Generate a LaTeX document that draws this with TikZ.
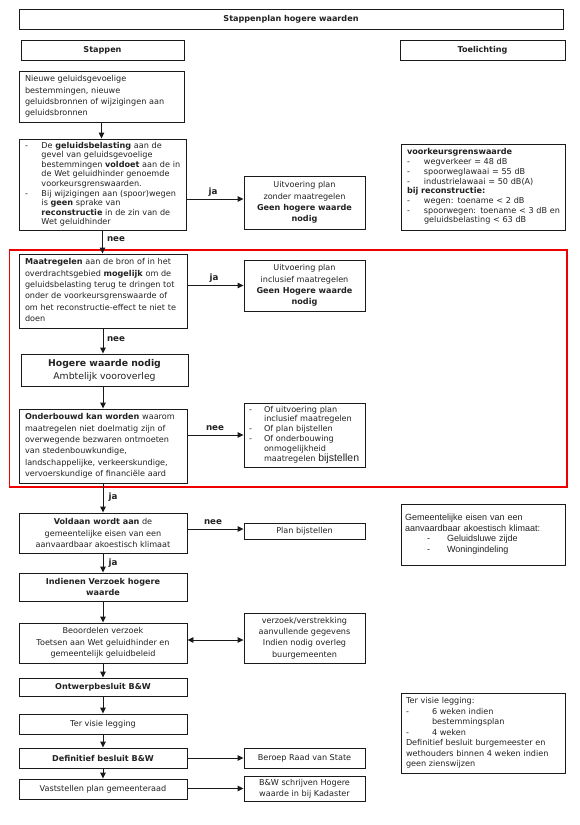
\documentclass[tikz,border=0pt]{standalone}
\usepackage{fontspec}
\setmainfont{DejaVu Sans}
\newfontfamily\arialf{Liberation Sans}
\usetikzlibrary{arrows.meta}
\definecolor{lin}{HTML}{1A1A1A}
\definecolor{txt}{HTML}{222222}
\definecolor{redr}{HTML}{EE0000}
\newcommand\tl[1]{\begin{tabular}{@{}l@{}}#1\end{tabular}}
\newcommand\dsh[2]{\makebox[#1][l]{-}}
\begin{document}
\begin{tikzpicture}[x=1pt,y=-1pt,
  box/.style={draw=lin, line width=0.9pt, inner sep=0pt, align=center, text=txt,
    font=\fontsize{8.1}{11.2}\selectfont},
  lbox/.style={box, align=left},
  arr/.style={draw=lin, line width=0.9pt, -{Triangle[length=6pt,width=5.5pt]}},
  darr/.style={draw=lin, line width=0.9pt, {Triangle[length=6pt,width=5.5pt]}-{Triangle[length=6pt,width=5.5pt]}},
  lbl/.style={inner sep=0pt, text=txt, font=\fontsize{8.7}{10}\bfseries\selectfont},
]
\fill[white] (0,0) rectangle (579,825);
\useasboundingbox (0,0) rectangle (579,825);

% header
\node[box, minimum width=544pt, minimum height=20pt, font=\fontsize{8.1}{10}\bfseries\selectfont] (title) at (291,19.5) {Stappenplan hogere waarden};
\node[box, minimum width=163pt, minimum height=20pt, font=\fontsize{8.1}{10}\bfseries\selectfont] (stappen) at (102.5,50) {Stappen};
\node[box, minimum width=165pt, minimum height=20pt, font=\fontsize{8.1}{10}\bfseries\selectfont] (toel) at (482.5,50) {Toelichting};

% left column
\node[lbox, minimum width=165pt, minimum height=51pt, text width=153pt, inner xsep=6pt] (b1) at (101.5,96.5)
 {\tl{Nieuwe geluidsgevoelige\\ bestemmingen, nieuwe\\ geluidsbronnen of wijzigingen aan\\ geluidsbronnen}};
\node[lbox, minimum width=167pt, minimum height=91pt, text width=155pt, inner xsep=6pt,
  font=\fontsize{8.1}{9.6}\selectfont] (b2) at (102.5,184.5)
 {\tl{\makebox[16.5pt][l]{-}De \textbf{geluidsbelasting} aan de\\
 \hspace*{16.5pt}gevel van geluidsgevoelige\\
 \hspace*{16.5pt}bestemmingen \textbf{voldoet} aan de in\\
 \hspace*{16.5pt}de Wet geluidhinder genoemde\\
 \hspace*{16.5pt}voorkeursgrenswaarden.\\
 \makebox[16.5pt][l]{-}Bij wijzigingen aan (spoor)wegen\\
 \hspace*{16.5pt}is \textbf{geen} sprake van\\
 \hspace*{16.5pt}\textbf{reconstructie} in de zin van de\\
 \hspace*{16.5pt}Wet geluidhinder}};
\node[lbox, minimum width=168pt, minimum height=74pt, text width=156pt, inner xsep=6pt,
  font=\fontsize{8.1}{11.4}\selectfont] (b3) at (103,291)
 {\tl{\textbf{Maatregelen} aan de bron of in het\\ overdrachtsgebied \textbf{mogelijk} om de\\ geluidsbelasting terug te dringen tot\\ onder de voorkeursgrenswaarde of\\ om het reconstructie-effect te niet te\\ doen}};
\node[box, minimum width=167pt, minimum height=32pt, font=\fontsize{9.3}{13}\selectfont] (b4) at (104.5,370)
 {\textbf{Hogere waarde nodig}\\ Ambtelijk vooroverleg};
\node[lbox, minimum width=168pt, minimum height=74pt, text width=156pt, inner xsep=6pt,
  font=\fontsize{8.1}{11.4}\selectfont] (b5) at (103,446)
 {\tl{\textbf{Onderbouwd kan worden} waarom\\ maatregelen niet doelmatig zijn of\\ overwegende bezwaren ontmoeten\\ van stedenbouwkundige,\\ landschappelijke, verkeerskundige,\\ vervoerskundige of financiële aard}};
\node[box, minimum width=168pt, minimum height=40pt] (b6) at (103,533)
 {\textbf{Voldaan wordt aan} de\\ gemeentelijke eisen van een\\ aanvaardbaar akoestisch klimaat};
\node[box, minimum width=168pt, minimum height=28pt, font=\fontsize{8.1}{11}\bfseries\selectfont] (b7) at (103,587)
 {Indienen Verzoek hogere\\ waarde};
\node[box, minimum width=168pt, minimum height=40pt, font=\fontsize{8.1}{11.5}\selectfont] (b8) at (103,643)
 {Beoordelen verzoek\\ Toetsen aan Wet geluidhinder en\\ gemeentelijk geluidbeleid};
\node[box, minimum width=168pt, minimum height=18pt, font=\fontsize{8.1}{10}\bfseries\selectfont] (b9) at (103,687) {Ontwerpbesluit B\&W};
\node[box, minimum width=168pt, minimum height=20pt] (b10) at (103,724) {Ter visie legging};
\node[box, minimum width=168pt, minimum height=20pt, font=\fontsize{8.1}{10}\bfseries\selectfont] (b11) at (103,758) {Definitief besluit B\&W};
\node[box, minimum width=168pt, minimum height=20pt] (b12) at (103,789) {Vaststellen plan gemeenteraad};

% middle column
\node[box, minimum width=121pt, minimum height=53pt] (r1) at (304.5,202.5)
 {Uitvoering plan\\ zonder maatregelen\\ \textbf{Geen hogere waarde}\\ \textbf{nodig}};
\node[box, minimum width=121pt, minimum height=51pt] (r2) at (304.5,285.5)
 {Uitvoering plan\\ inclusief maatregelen\\ \textbf{Geen Hogere waarde}\\ \textbf{nodig}};
\node[lbox, minimum width=121pt, minimum height=64pt, text width=111pt, inner xsep=5pt,
  font=\fontsize{8.1}{9.8}\selectfont] (r3) at (304.5,435)
 {\tl{\makebox[15pt][l]{-}Of uitvoering plan\\
 \hspace*{15pt}inclusief maatregelen\\
 \makebox[15pt][l]{-}Of plan bijstellen\\
 \makebox[15pt][l]{-}Of onderbouwing\\
 \hspace*{15pt}onmogelijkheid\\
 \hspace*{15pt}maatregelen {\arialf\fontsize{10.5}{11}\selectfont bijstellen}}};
\node[box, minimum width=121pt, minimum height=16pt] (r4) at (304.5,531) {Plan bijstellen};
\node[box, minimum width=121pt, minimum height=50pt] (r6) at (304.5,638)
 {verzoek/verstrekking\\ aanvullende gegevens\\ Indien nodig overleg\\ buurgemeenten};
\node[box, minimum width=121pt, minimum height=20pt] (r7) at (304.5,758) {Beroep Raad van State};
\node[box, minimum width=121pt, minimum height=25pt] (r8) at (304.5,788.5)
 {B\&W schrijven Hogere\\ waarde in bij Kadaster};

% right column
\node[lbox, minimum width=164pt, minimum height=86pt, text width=152pt, inner xsep=6pt,
  font=\fontsize{8.1}{9.7}\selectfont] (kv) at (483,187)
 {\tl{\textbf{voorkeursgrenswaarde}\\
 \makebox[17pt][l]{-}wegverkeer = 48 dB\\
 \makebox[17pt][l]{-}spoorweglawaai = 55 dB\\
 \makebox[17pt][l]{-}industrielawaai = 50 dB(A)\\
 \textbf{bij reconstructie:}\\
 \makebox[17pt][l]{-}wegen: toename < 2 dB\\
 \makebox[17pt][l]{-}spoorwegen: toename < 3 dB en\\
 \hspace*{17pt}geluidsbelasting < 63 dB}};
\node[lbox, minimum width=164pt, minimum height=61pt, text width=156pt, inner xsep=4pt,
  font=\arialf\fontsize{9}{10.7}\selectfont] (gem) at (483,534.5)
 {\tl{Gemeentelijke eisen van een\\ aanvaardbaar akoestisch klimaat:\\
 \hspace*{22pt}\makebox[20pt][l]{-}Geluidsluwe zijde\\
 \hspace*{22pt}\makebox[20pt][l]{-}Woningindeling}};
\node[lbox, minimum width=164pt, minimum height=80pt, text width=154pt, inner xsep=5pt,
  font=\fontsize{8.1}{10.5}\selectfont] (tvl) at (483,733)
 {\tl{Ter visie legging:\\
 \makebox[26pt][l]{-}6 weken indien\\
 \hspace*{26pt}bestemmingsplan\\
 \makebox[26pt][l]{-}4 weken\\
 Definitief besluit burgemeester en\\
 wethouders binnen 4 weken indien\\
 geen zienswijzen}};

% red frame
\draw[redr, line width=1.8pt] (9.5,250) rectangle (567,487);

% vertical connectors
\draw[arr] (b1.south) -- (b1.south |- b2.north);
\draw[arr] (b2.south) -- (b2.south |- b3.north);
\draw[arr] (b3.south) -- (b3.south |- b4.north);
\draw[arr] (b4.south -| b3.south) -- (b3.south |- b5.north);
\draw[arr] (b5.south) -- (b5.south |- b6.north);
\draw[arr] (b6.south) -- (b6.south |- b7.north);
\draw[arr] (b7.south) -- (b7.south |- b8.north);
\draw[arr] (b8.south) -- (b8.south |- b9.north);
\draw[arr] (b9.south) -- (b9.south |- b10.north);
\draw[arr] (b10.south) -- (b10.south |- b11.north);
\draw[arr] (b11.south) -- (b11.south |- b12.north);

% horizontal connectors
\coordinate (t1) at ([yshift=3.5pt]r1.west);
\draw[arr] (b2.east |- t1) -- (t1);
\draw[arr] (b3.east |- r2.west) -- (r2.west);
\draw[arr] (b5.east |- r3.west) -- (r3.west);
\coordinate (t4) at ([yshift=2pt]r4.west);
\draw[arr] (b6.east |- t4) -- (t4);
\coordinate (t6) at ([yshift=-2pt]r6.west);
\draw[darr] (b8.east |- t6) -- (t6);
\draw[arr] (b11.east |- r7.west) -- (r7.west);
\draw[arr] (b12.east |- r8.west) -- (r8.west);

% connector labels
\node[lbl] (l1) at (213,192) {ja};
\node[lbl] (l2) at (116,239) {nee};
\node[lbl] (l3) at (214,278) {ja};
\node[lbl] (l4) at (116,339) {nee};
\node[lbl] (l5) at (215,428) {nee};
\node[lbl] (l6) at (113,497) {ja};
\node[lbl] (l7) at (213,522) {nee};
\node[lbl] (l8) at (113,563) {ja};
\end{tikzpicture}
\end{document}
